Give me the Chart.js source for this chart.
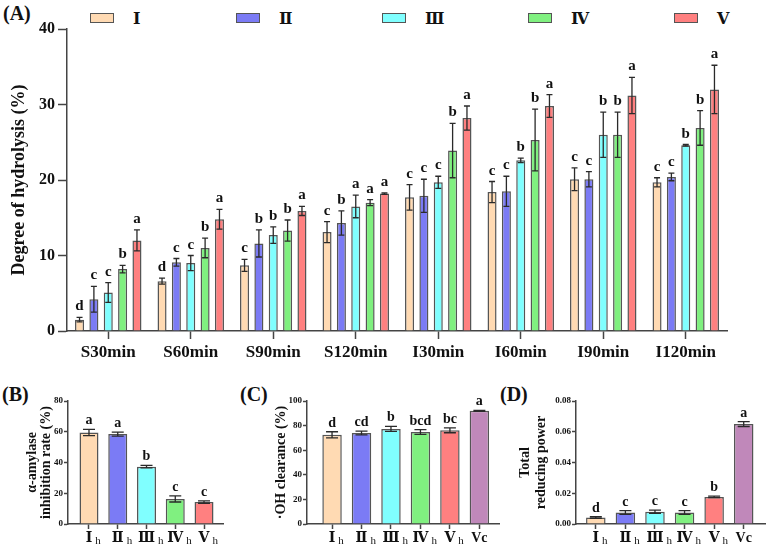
<!DOCTYPE html>
<html>
<head>
<meta charset="utf-8">
<script src="https://cdn.jsdelivr.net/npm/chart.js@4.4.1/dist/chart.umd.min.js"></script>
<style>
  body { margin: 0; background: #fff; width: 767px; height: 549px; position: relative; overflow: hidden;
         font-family: "Liberation Serif", "DejaVu Serif", "Times New Roman", serif; color: #111; }
  canvas { position: absolute; }
  .tag { position: absolute; font-weight: bold; font-size: 20px; line-height: 1; }
  #legendA { position: absolute; left: 90px; top: 8px; height: 20px; display: flex; }
  #legendA .item { width: 146px; display: flex; align-items: center; font-weight: bold; font-size: 16px; }
  #legendA .box { width: 22px; height: 8px; border: 1.5px solid #555; margin-right: 19px; }
</style>
</head>
<body>
<div class="tag" style="left:3px;top:3px">(A)</div>
<div class="tag" style="left:2px;top:384px">(B)</div>
<div class="tag" style="left:240px;top:384px">(C)</div>
<div class="tag" style="left:500px;top:384px">(D)</div>
<div id="legendA"></div>
<canvas id="chartA" width="767" height="365" style="left:0;top:0"></canvas>
<canvas id="chartB" width="250" height="169" style="left:0;top:380px"></canvas>
<canvas id="chartC" width="250" height="169" style="left:250px;top:380px"></canvas>
<canvas id="chartD" width="267" height="169" style="left:500px;top:380px"></canvas>
<script>
// (A) degree of hydrolysis
const timePoints = ['S30min', 'S60min', 'S90min', 'S120min', 'I30min', 'I60min', 'I90min', 'I120min'];
const groupNames = ['Ⅰ', 'Ⅱ', 'Ⅲ', 'Ⅳ', 'Ⅴ'];
const dhI   = [1.5, 6.6, 8.7, 13.1, 17.7, 18.4, 20.1, 19.7];
const dhII  = [4.2, 9.1, 11.6, 14.3, 17.9, 18.5, 20.1, 20.4];
const dhIII = [5.1, 9.0, 12.7, 16.5, 19.7, 22.6, 26.0, 24.6];
const dhIV  = [8.2, 11.0, 13.3, 17.0, 23.9, 25.3, 26.0, 26.9];
const dhV   = [12.0, 14.8, 15.9, 18.2, 28.2, 29.8, 31.2, 32.0];
const dhErrI   = [0.3, 0.4, 0.8, 1.4, 1.7, 1.4, 1.5, 0.6];
const dhErrII  = [1.7, 0.5, 1.8, 1.6, 2.2, 2.0, 1.0, 0.5];
const dhErrIII = [1.3, 1.0, 1.1, 1.5, 0.8, 0.3, 3.0, 0.1];
const dhErrIV  = [0.5, 1.3, 1.4, 0.4, 3.6, 4.1, 3.0, 2.3];
const dhErrV   = [1.4, 1.3, 0.6, 0.1, 1.6, 1.5, 2.4, 3.2];
const dhLetI   = ['d', 'd', 'c', 'c', 'c', 'c', 'c', 'c'];
const dhLetII  = ['c', 'c', 'b', 'b', 'c', 'c', 'c', 'c'];
const dhLetIII = ['c', 'c', 'b', 'a', 'c', 'b', 'b', 'b'];
const dhLetIV  = ['b', 'b', 'b', 'a', 'b', 'b', 'b', 'b'];
const dhLetV   = ['a', 'a', 'a', 'a', 'a', 'a', 'a', 'a'];
const dhTicks = [0, 10, 20, 30, 40];

// (B) alpha-amylase inhibition
const hydroNames = ['Ⅰ', 'Ⅱ', 'Ⅲ', 'Ⅳ', 'Ⅴ'];
const hydroSubs  = ['h', 'h', 'h', 'h', 'h'];
const inhibition    = [59.5, 58.5, 37.3, 16.3, 14.3];
const inhibitionErr = [2.0, 1.3, 0.8, 2.0, 0.8];
const inhibitionLet = ['a', 'a', 'b', 'c', 'c'];

// (C) OH clearance, (D) total reducing power
const sampleNames = ['Ⅰ', 'Ⅱ', 'Ⅲ', 'Ⅳ', 'Ⅴ', 'Vc'];
const sampleSubs  = ['h', 'h', 'h', 'h', 'h', ''];
const ohClearance = [72.5, 74.0, 77.3, 74.8, 76.2, 92.0];
const ohErr       = [2.5, 1.5, 2.0, 2.0, 2.0, 0.4];
const ohLet       = ['d', 'cd', 'b', 'bcd', 'bc', 'a'];
const reducing    = [0.0042, 0.0075, 0.0080, 0.0075, 0.0176, 0.065];
const reducingErr = [0.0005, 0.0012, 0.0010, 0.0012, 0.0005, 0.0016];
const reducingLet = ['d', 'c', 'c', 'c', 'b', 'a'];

const groupColors = ['#FFDAB3', '#7B7BF5', '#80FFFF', '#80F080', '#FF8080'];
const vcColor = '#C088BA';
const serif = '"Liberation Serif", "DejaVu Serif", "Times New Roman", serif';
const axisColor = '#444';
const barEdge = '#555';

Chart.defaults.font.family = serif;
Chart.defaults.color = '#111';
Chart.defaults.animation = false;

// error bars + significance letters, drawn from each dataset's errors/letters
const errorBars = {
  id: 'errorBars',
  afterDatasetsDraw(chart, args, opts) {
    const ctx = chart.ctx;
    const yScale = chart.scales.y;
    chart.data.datasets.forEach((ds, di) => {
      chart.getDatasetMeta(di).data.forEach((bar, i) => {
        const top = yScale.getPixelForValue(ds.data[i] + ds.errors[i]);
        const bottom = yScale.getPixelForValue(ds.data[i] - ds.errors[i]);
        ctx.save();
        ctx.strokeStyle = '#2a2a2a';
        ctx.lineWidth = 1.3;
        ctx.beginPath();
        ctx.moveTo(bar.x, top); ctx.lineTo(bar.x, bottom);
        ctx.moveTo(bar.x - opts.cap, top); ctx.lineTo(bar.x + opts.cap, top);
        ctx.moveTo(bar.x - opts.cap, bottom); ctx.lineTo(bar.x + opts.cap, bottom);
        ctx.stroke();
        ctx.fillStyle = '#111';
        ctx.font = 'bold ' + opts.size + 'px ' + serif;
        ctx.textAlign = 'center';
        ctx.textBaseline = 'alphabetic';
        ctx.fillText(ds.letters[i], bar.x, top - opts.gap);
        ctx.restore();
      });
    });
  }
};

// x labels with a small subscript "h"
const subLabels = {
  id: 'subLabels',
  afterDraw(chart, args, opts) {
    const ctx = chart.ctx;
    const xScale = chart.scales.x;
    const base = chart.chartArea.bottom;
    opts.main.forEach((txt, i) => {
      const cx = xScale.getPixelForTick(i);
      ctx.save();
      ctx.fillStyle = '#111';
      ctx.textBaseline = 'alphabetic';
      ctx.font = 'bold 14px ' + serif;
      const w = ctx.measureText(txt).width;
      ctx.textAlign = 'center';
      ctx.fillText(txt, cx, base + 18);
      if (opts.sub[i]) {
        ctx.font = '11px ' + serif;
        ctx.textAlign = 'left';
        ctx.fillText(opts.sub[i], cx + w / 2 + 3, base + 20);
      }
      ctx.restore();
    });
  }
};

// legend for (A)
const legendA = document.getElementById('legendA');
groupNames.forEach((name, i) => {
  const item = document.createElement('div');
  item.className = 'item';
  item.innerHTML = '<span class="box" style="background:' + groupColors[i] + '"></span><span>' + name + '</span>';
  legendA.appendChild(item);
});

const dhSeries = [dhI, dhII, dhIII, dhIV, dhV];
const dhErrs = [dhErrI, dhErrII, dhErrIII, dhErrIV, dhErrV];
const dhLets = [dhLetI, dhLetII, dhLetIII, dhLetIV, dhLetV];

new Chart(document.getElementById('chartA'), {
  type: 'bar',
  data: {
    labels: timePoints,
    datasets: groupNames.map((name, k) => ({
      label: name,
      data: dhSeries[k],
      errors: dhErrs[k],
      letters: dhLets[k],
      backgroundColor: groupColors[k],
      borderColor: barEdge,
      borderWidth: 1.5,
      categoryPercentage: 0.87,
      barPercentage: 0.63
    }))
  },
  options: {
    responsive: false,
    layout: { padding: { top: 29, right: 40, left: 0, bottom: 0 } },
    plugins: {
      legend: { display: false },
      tooltip: { enabled: false },
      errorBars: { cap: 3, size: 15, gap: 7 }
    },
    scales: {
      x: {
        afterFit: (s) => { s.height = 34; },
        grid: { offset: false, drawOnChartArea: false, tickLength: 8, tickColor: axisColor, tickWidth: 1.5 },
        border: { color: axisColor, width: 1.5 },
        ticks: { font: { size: 17, weight: 'bold' }, padding: 3, maxRotation: 0 }
      },
      y: {
        min: 0, max: 40,
        afterFit: (s) => { s.width = 67; },
        afterBuildTicks: (s) => { s.ticks = dhTicks.map(v => ({ value: v })); },
        grid: { drawOnChartArea: false, tickLength: 9, tickColor: axisColor, tickWidth: 1.5 },
        border: { color: axisColor, width: 1.5 },
        ticks: { font: { size: 16, weight: 'bold' }, padding: 3 },
        title: { display: true, text: 'Degree of hydrolysis (%)', font: { size: 18, weight: 'bold' }, padding: { top: 9, bottom: 0 } }
      }
    }
  },
  plugins: [errorBars]
});

// small panels
function smallPanel(id, names, subs, values, errs, lets, colors, yMax, yStep, yWidth, title, titleOpts, edges, tickFmt, rightPad) {
  return new Chart(document.getElementById(id), {
    type: 'bar',
    data: {
      labels: names.map((n, i) => n + subs[i]),
      datasets: [{
        data: values,
        errors: errs,
        letters: lets,
        backgroundColor: colors,
        borderColor: barEdge,
        borderWidth: 1.5,
        categoryPercentage: 1,
        barPercentage: 0.66
      }]
    },
    options: {
      responsive: false,
      layout: { padding: { top: 21, right: rightPad, left: 0, bottom: 0 } },
      plugins: {
        legend: { display: false },
        tooltip: { enabled: false },
        errorBars: { cap: 6, size: 14, gap: 5 },
        subLabels: { main: names, sub: subs }
      },
      scales: {
        x: {
          afterFit: (s) => { s.height = 25; },
          afterBuildTicks: (s) => {
            s._startValue = -edges[0];
            s._valueRange = names.length - 1 + edges[0] + edges[1];
          },
          grid: { offset: false, drawOnChartArea: false, tickLength: 5, tickColor: axisColor, tickWidth: 1.5 },
          border: { color: axisColor, width: 1.5 },
          ticks: { display: false }
        },
        y: {
          min: 0, max: yMax,
          afterFit: (s) => { s.width = yWidth; },
          grid: { drawOnChartArea: false, tickLength: 4, tickColor: axisColor, tickWidth: 1.5 },
          border: { color: axisColor, width: 1.5 },
          ticks: { stepSize: yStep, font: { size: 9, weight: 'bold' }, padding: 1, callback: tickFmt },
          title: Object.assign({ display: true, text: title }, titleOpts)
        }
      }
    },
    plugins: [errorBars, subLabels]
  });
}

smallPanel('chartB', hydroNames, hydroSubs, inhibition, inhibitionErr, inhibitionLet,
  groupColors, 80, 20, 68, ['α-amylase', 'inhibition rate (%)'],
  { font: { size: 14, weight: 'bold', lineHeight: 1.0 }, padding: { top: 25, bottom: 0 } },
  [0.73, 0.66], (v) => v, 27);

smallPanel('chartC', sampleNames, sampleSubs, ohClearance, ohErr, ohLet,
  groupColors.concat([vcColor]), 100, 20, 57, '·OH clearance (%)',
  { font: { size: 14, weight: 'bold', lineHeight: 1.2 }, padding: { top: 23, bottom: 0 } },
  [0.85, 0.70], (v) => v, 0);

smallPanel('chartD', sampleNames, sampleSubs, reducing, reducingErr, reducingLet,
  groupColors.concat([vcColor]), 0.08, 0.02, 76, ['Total', 'reducing power'],
  { font: { size: 14, weight: 'bold', lineHeight: 1.1 }, padding: { top: 18, bottom: 0 } },
  [0.67, 0.72], (v) => v.toFixed(2), 2);
</script>
</body>
</html>
